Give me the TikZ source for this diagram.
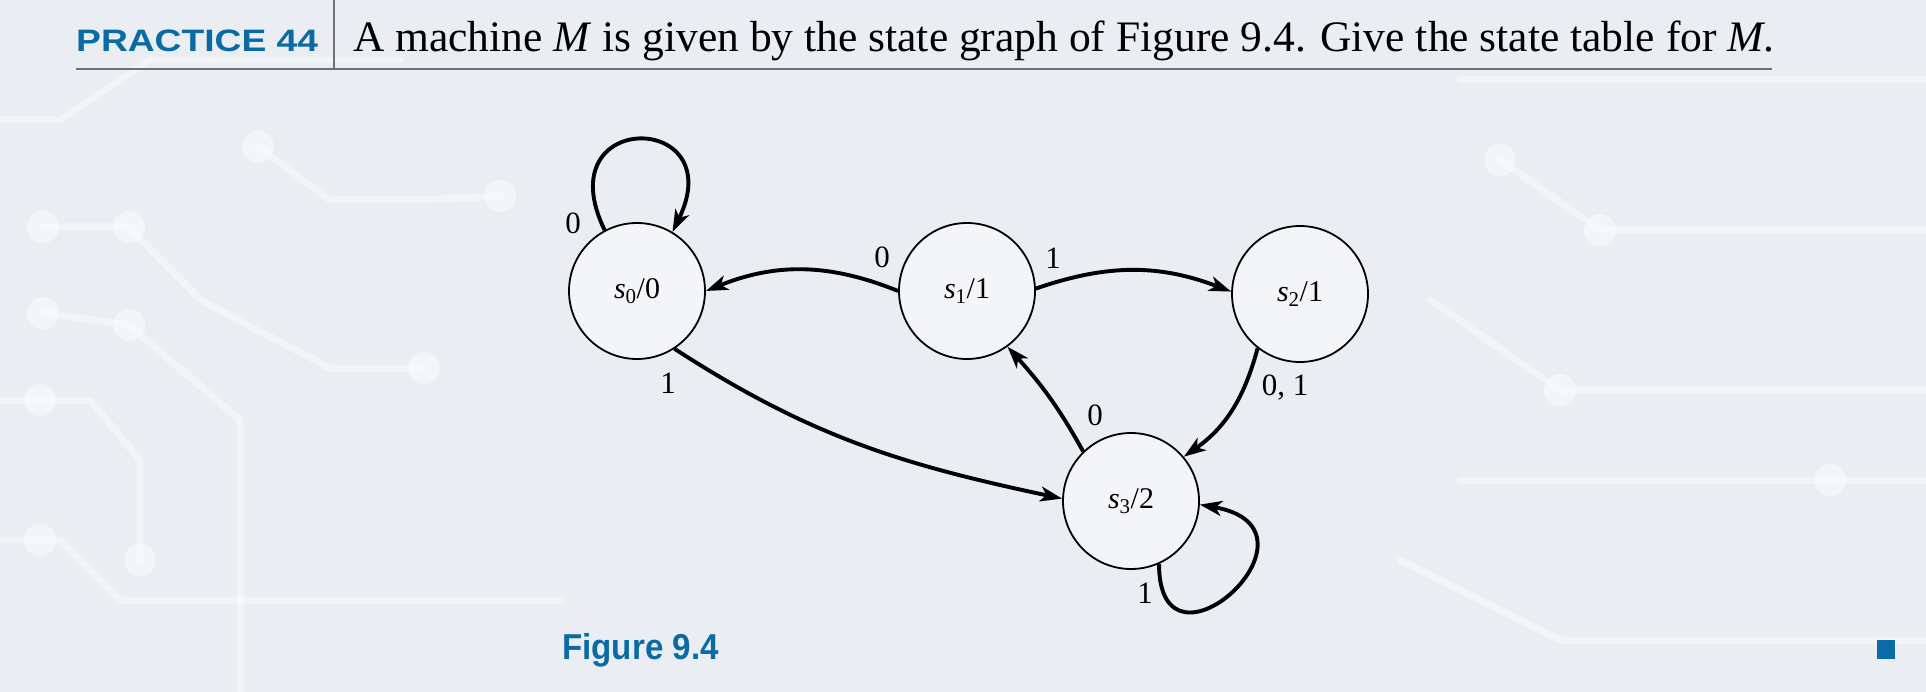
\documentclass[tikz,border=0pt]{standalone}
\usepackage{fontspec}
\setmainfont{Liberation Serif}
\newfontfamily\headsans{Liberation Sans}
\usetikzlibrary{arrows.meta}
\definecolor{pblue}{HTML}{0A6AA6}
\definecolor{bgcol}{HTML}{EAEEF3}
\definecolor{rulegray}{HTML}{6E7176}
\begin{document}
\begin{tikzpicture}[x=1pt,y=1pt,
  state/.style={circle,draw=black,line width=1.8pt,minimum size=136pt,inner sep=0pt,
    fill=white,fill opacity=0.45,text opacity=1,font=\fontsize{30}{30}\selectfont},
  edge/.style={line width=3.9pt,-{Stealth[length=22pt,width=15pt,inset=6pt]}},
  lbl/.style={inner sep=0pt,font=\fontsize{31}{31}\selectfont},
  trace/.style={draw=white,line width=7pt,opacity=0.4,line cap=round,line join=round},
  pad/.style={fill=white,opacity=0.45}]
\fill[bgcol] (0,0) rectangle (1926,-692);
\useasboundingbox (0,0) rectangle (1926,-692);
% faint circuit background
\draw[trace] (0,-120) -- (60,-120) -- (150,-60) -- (400,-60);
\draw[trace] (43,-227) -- (129,-227) -- (200,-300) -- (330,-368) -- (424,-368);
\draw[trace] (43,-313) -- (129,-325) -- (240,-420) -- (240,-692);
\draw[trace] (0,-400) -- (90,-400) -- (140,-460) -- (140,-560);
\draw[trace] (258,-147) -- (330,-200) -- (420,-200) -- (500,-196);
\draw[trace] (0,-540) -- (60,-540) -- (120,-600) -- (560,-600);
\draw[trace] (1460,-80) -- (1926,-80);
\draw[trace] (1500,-160) -- (1600,-230) -- (1926,-230);
\draw[trace] (1430,-300) -- (1560,-390) -- (1926,-390);
\draw[trace] (1460,-480) -- (1926,-480);
\draw[trace] (1400,-560) -- (1560,-640) -- (1926,-640);
\foreach \p in {(43,-227),(129,-227),(43,-313),(129,-325),(258,-147),(424,-368),(40,-400),(140,-560),(500,-196),(1600,-230),(1560,-390),(1830,-480),(40,-540),(1500,-160)}
  \fill[pad] \p circle (16pt);
% header
\node[anchor=base west,inner sep=0pt,text=pblue] (head) at (76,-52)
  {\scalebox{1.2}[1]{\headsans\bfseries\fontsize{31}{31}\selectfont PRACTICE 44}};
\node[anchor=base west,inner sep=0pt] (title) at (353,-52)
  {\fontsize{43.5}{43.5}\selectfont A machine \textit{M} is given by the state graph of Figure 9.4. Give the state table for \textit{M}.};
\coordinate (bartop) at (334,0);
\coordinate (barbot) at (334,-68);
\draw[rulegray,line width=1.6pt] (bartop) -- (barbot);
\coordinate (rulel) at (76,-69);
\coordinate (ruler) at (1772,-69);
\draw[rulegray,line width=2.2pt] (rulel) -- (ruler);
% states
\node[state] (s0) at (637,-291) {{\itshape s}\textsubscript{0}/0};
\node[state] (s1) at (967,-291) {{\itshape s}\textsubscript{1}/1};
\node[state] (s2) at (1300,-294) {{\itshape s}\textsubscript{2}/1};
\node[state] (s3) at (1131,-501) {{\itshape s}\textsubscript{3}/2};
% edges
\draw[edge] (s0.118) .. controls +(116:135) and +(64:135) .. (s0.59);
\draw[edge] (s1.180) to[bend right=22] (s0.0);
\draw[edge] (s1.2) to[bend left=20] (s2.178);
\draw[edge] (s0.-57) to[out=-33,in=168] (s3.178);
\draw[edge] (s2.232) to[out=-105,in=35] (s3.40);
\draw[edge] (s3.134) to[out=119,in=-48] (s1.-54);
\draw[edge] (s3.294) .. controls +(270:128) and +(-10:140) .. (s3.-3);
% labels
\node[lbl] (l1) at (573,-223) {0};
\node[lbl] (l2) at (882,-257) {0};
\node[lbl] (l3) at (668,-383) {1};
\node[lbl] (l4) at (1053,-258) {1};
\node[lbl] (l5) at (1285,-388) {0, 1};
\node[lbl] (l6) at (1095,-415) {0};
\node[lbl] (l7) at (1145,-593) {1};
% caption
\node[anchor=base west,inner sep=0pt,text=pblue] (cap) at (562,-659)
  {\scalebox{0.92}[1]{\headsans\bfseries\fontsize{36}{36}\selectfont Figure 9.4}};
\node[fill=pblue,minimum width=18pt,minimum height=19pt,inner sep=0pt] (endmark) at (1886,-649.5) {};
\end{tikzpicture}
\end{document}
